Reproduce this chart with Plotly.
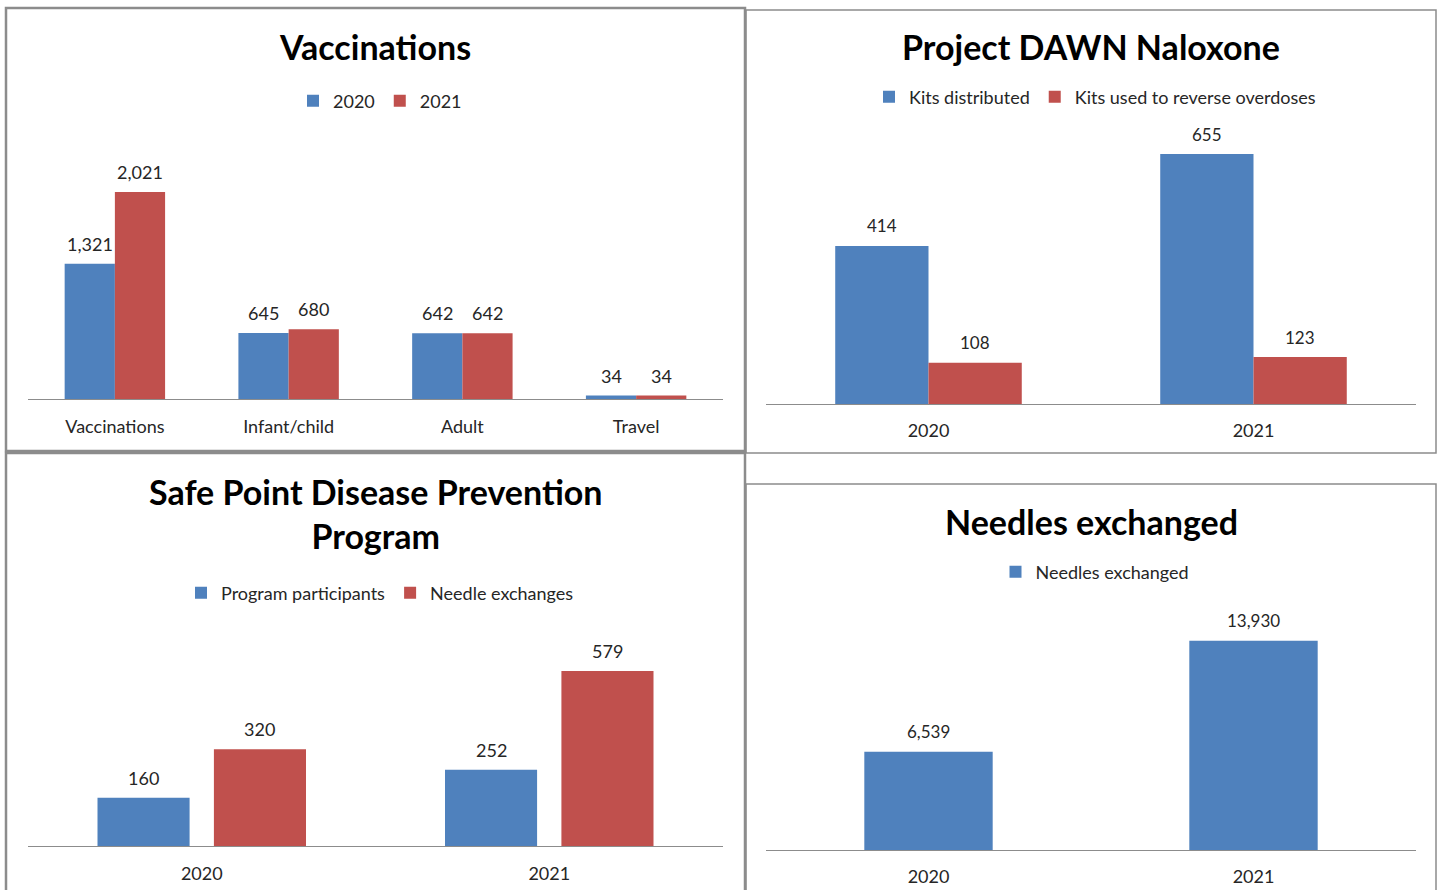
import plotly.graph_objects as go

W, H = 1440, 890
BLUE = "#4F81BD"
RED = "#C0504D"
FONT = "Lato"
TXT = "#262626"

# ---- data ----
vacc_categories = ["Vaccinations", "Infant/child", "Adult", "Travel"]
vacc_2020 = [1321, 645, 642, 34]
vacc_2021 = [2021, 680, 642, 34]

dawn_years = ["2020", "2021"]
dawn_distributed = [414, 655]
dawn_used = [108, 123]

sp_years = ["2020", "2021"]
sp_participants = [160, 252]
sp_exchanges = [320, 579]

ne_years = ["2020", "2021"]
ne_needles = [6539, 13930]


def px_x(x):
    return x / W


def px_y(y):
    return 1 - y / H


fig = go.Figure()

panels = {
    "1": dict(x=(28, 723), y=(399, 150.6), cats=vacc_categories, stand=11),
    "2": dict(x=(766, 1416), y=(404, 104), cats=dawn_years, stand=10),
    "3": dict(x=(28, 723), y=(846, 636), cats=sp_years, stand=11),
    "4": dict(x=(766, 1416), y=(850, 599), cats=ne_years, stand=10),
}


def axn(ax):
    return ("x" if ax == "1" else "x" + ax), ("y" if ax == "1" else "y" + ax)


def add_bar(ax, name, cats, vals, color, legend, width, offset, font_size=18):
    xa, ya = axn(ax)
    xs = list(range(len(cats)))
    fig.add_trace(go.Bar(
        x=xs, y=vals, name=name, marker=dict(color=color, line=dict(width=0)),
        xaxis=xa, yaxis=ya, legend=legend, width=width, offset=offset,
        hoverinfo="skip",
    ))
    # value labels above bar centres
    for i, v in zip(xs, vals):
        fig.add_annotation(x=i + offset + width / 2, y=v, xref=xa, yref=ya, text=f"{v:,}",
                           showarrow=False, yanchor="middle", yshift=20,
                           font=dict(size=font_size, family=FONT, color=TXT))


add_bar("1", "2020", vacc_categories, vacc_2020, BLUE, "legend", 0.289, -0.289)
add_bar("1", "2021", vacc_categories, vacc_2021, RED, "legend", 0.289, 0.0)
add_bar("2", "Kits distributed", dawn_years, dawn_distributed, BLUE, "legend2", 0.287, -0.287, 17)
add_bar("2", "Kits used to reverse overdoses", dawn_years, dawn_used, RED, "legend2", 0.287, 0.0, 17)
add_bar("3", "Program participants", sp_years, sp_participants, BLUE, "legend3", 0.265, -0.3)
add_bar("3", "Needle exchanges", sp_years, sp_exchanges, RED, "legend3", 0.265, 0.035)
add_bar("4", "Needles exchanged", ne_years, ne_needles, BLUE, "legend4", 0.395, -0.1975, 17)

layout = dict(
    width=W, height=H, margin=dict(l=0, r=0, t=0, b=0, autoexpand=False),
    paper_bgcolor="white", plot_bgcolor="white",
    barmode="overlay",
    font=dict(family=FONT, color=TXT, size=17),
)

maxes = {"1": max(vacc_2020 + vacc_2021), "2": max(dawn_distributed + dawn_used),
         "3": max(sp_participants + sp_exchanges), "4": max(ne_needles)}

for k, p in panels.items():
    xa, ya = axn(k)
    xn = "xaxis" if k == "1" else "xaxis" + k
    yn = "yaxis" if k == "1" else "yaxis" + k
    n = len(p["cats"])
    layout[xn] = dict(
        type="linear", range=[-0.5, n - 0.5],
        tickmode="array", tickvals=list(range(n)), ticktext=p["cats"],
        domain=[px_x(p["x"][0]), px_x(p["x"][1])], anchor=ya, automargin=False,
        showline=True, linecolor="#8c8c8c", linewidth=1,
        showgrid=False, zeroline=False, ticks="", ticklabelstandoff=p["stand"],
        tickfont=dict(size=18, family=FONT, color=TXT), fixedrange=True,
    )
    layout[yn] = dict(
        domain=[px_y(p["y"][0]), px_y(p["y"][1])], anchor=xa, automargin=False,
        range=[0, maxes[k] * 1.2], visible=False, fixedrange=True,
    )

fig.update_layout(**layout)

titles = [
    ("Vaccinations", 375, 47),
    ("Project DAWN Naloxone", 1091, 47),
    ("Safe Point Disease Prevention<br>Program", 375, 513),
    ("Needles exchanged", 1091, 521),
]
for t, x, y in titles:
    fig.add_annotation(x=px_x(x), y=px_y(y), xref="paper", yref="paper", text=f"<b>{t}</b>",
                       showarrow=False, xanchor="center", yanchor="middle",
                       font=dict(size=34, family=FONT, color="#000000"))

leg_common = dict(orientation="h", xanchor="center", yanchor="middle",
                  font=dict(size=18, family=FONT, color=TXT), bgcolor="rgba(0,0,0,0)",
                  itemclick=False, itemdoubleclick=False, tracegroupgap=0, itemwidth=30)
fig.update_layout(
    legend=dict(x=px_x(380), y=px_y(101), **leg_common),
    legend2=dict(x=px_x(1095), y=px_y(97), **leg_common),
    legend3=dict(x=px_x(380), y=px_y(593), **leg_common),
    legend4=dict(x=px_x(1095), y=px_y(572), **leg_common),
)

boxes = [
    (6, 8, 745, 451, 2.5),
    (746, 10, 1436, 453, 1.5),
    (6, 453, 745, 895, 2.5),
    (746, 484, 1436, 895, 1.5),
]
for x0, y0, x1, y1, w in boxes:
    fig.add_shape(type="rect", xref="paper", yref="paper",
                  x0=px_x(x0), x1=px_x(x1), y0=px_y(y0), y1=px_y(y1),
                  line=dict(color="#8c8c8c", width=w), layer="below")

fig.write_html("out.html", config={"displayModeBar": False},
               post_script="document.body.style.margin='0';document.body.style.overflow='hidden';")
